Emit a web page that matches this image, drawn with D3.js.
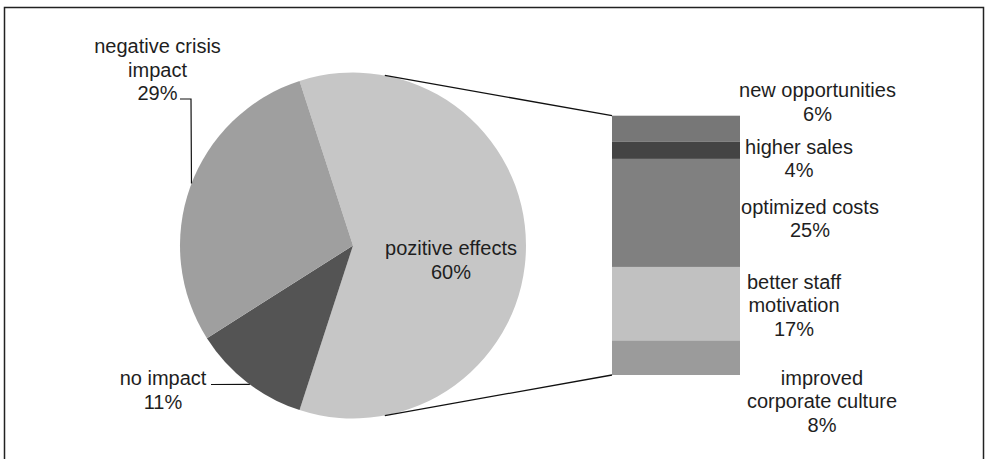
<!DOCTYPE html>
<html>
<head>
<meta charset="utf-8">
<script src="https://cdn.jsdelivr.net/npm/d3@7"></script>
<style>
  html, body { margin: 0; padding: 0; background: #fff; }
  svg { display: block; }
  text { font-family: "Liberation Sans", Arial, sans-serif; font-size: 20px; fill: #1e1e1e; }
</style>
</head>
<body>
<svg id="chart" width="988" height="459"></svg>
<script>
// Main pie: share of responses
const pieCategories = ["pozitive effects", "no impact", "negative crisis impact"];
const pieValues = [60, 11, 29];
const pieColors = ["#c6c6c6", "#545454", "#9f9f9f"];
const pieLabelLines = [["pozitive effects"], ["no impact"], ["negative crisis", "impact"]];

// Breakdown of the positive effects (stacked bar)
const barCategories = ["new opportunities", "higher sales", "optimized costs", "better staff motivation", "improved corporate culture"];
const barValues = [6, 4, 25, 17, 8];
const barColors = ["#777777", "#444444", "#808080", "#c1c1c1", "#9b9b9b"];
const barLabelLines = [["new opportunities"], ["higher sales"], ["optimized costs"], ["better staff", "motivation"], ["improved", "corporate culture"]];

const svg = d3.select("#chart");
const lineH = 23.7;

// frame
svg.append("rect")
  .attr("x", 4.5).attr("y", 7.5).attr("width", 979).attr("height", 470)
  .attr("fill", "none").attr("stroke", "#222").attr("stroke-width", 1.5);

// ---- pie ----
const cx = 353, cy = 245.5, R = 173;
const toRad = d => d * Math.PI / 180;
const pie = d3.pie().sort(null).value(d => d)
  .startAngle(toRad(-18)).endAngle(toRad(342));
const arcs = pie(pieValues);
const arc = d3.arc().innerRadius(0).outerRadius(R);

const gPie = svg.append("g").attr("transform", `translate(${cx},${cy})`);
gPie.selectAll("path").data(arcs).join("path")
  .attr("d", arc)
  .attr("fill", (d, i) => pieColors[i]);

// ---- stacked bar ----
const barX0 = 612, barX1 = 740;
const total = d3.sum(barValues);
const y = d3.scaleLinear().domain([0, total]).range([115.7, 375]);
const cum = d3.cumsum(barValues);
const segs = barValues.map((v, i) => ({ v, i, start: cum[i] - v, end: cum[i] }));

svg.append("g").selectAll("rect").data(segs).join("rect")
  .attr("x", barX0).attr("width", barX1 - barX0)
  .attr("y", d => y(d.start))
  .attr("height", d => y(d.end) - y(d.start))
  .attr("fill", d => barColors[d.i]);

// connector lines from the positive slice to the bar
const pt = a => [cx + R * Math.sin(toRad(a)), cy - R * Math.cos(toRad(a))];
const topPt = pt(10.6), botPt = pt(169.4);
svg.append("line")
  .attr("x1", topPt[0]).attr("y1", topPt[1]).attr("x2", barX0).attr("y2", y(0))
  .attr("stroke", "#111").attr("stroke-width", 1.3);
svg.append("line")
  .attr("x1", botPt[0]).attr("y1", botPt[1]).attr("x2", barX0).attr("y2", y(total))
  .attr("stroke", "#111").attr("stroke-width", 1.3);

// ---- labels ----
function block(lines, x, yTop) {
  const t = svg.append("text").attr("text-anchor", "middle");
  lines.forEach((s, k) => {
    t.append("tspan").attr("x", x).attr("y", yTop + k * lineH).attr("dy", "0.35em").text(s);
  });
  return t;
}

// pie labels (value line appended under the name)
const pieLabelPos = [[451, 248], [163, 378], [157.5, 46]];
pieValues.forEach((v, i) => {
  block(pieLabelLines[i].concat([v + "%"]), pieLabelPos[i][0], pieLabelPos[i][1]);
});

// leader lines for outside pie labels
const negEdge = pt(291);
svg.append("polyline")
  .attr("points", [[180, 99], [191, 99], negEdge].map(p => p.join(",")).join(" "))
  .attr("fill", "none").attr("stroke", "#111").attr("stroke-width", 1.2);
const noEdge = pt(216.6);
svg.append("polyline")
  .attr("points", [[211, 384.5], noEdge].map(p => p.join(",")).join(" "))
  .attr("fill", "none").attr("stroke", "#111").attr("stroke-width", 1.2);

// bar labels
const barLabelPos = [[817.5, 90], [799, 146.7], [810, 206.7], [794, 281.7], [822, 377.7]];
barValues.forEach((v, i) => {
  block(barLabelLines[i].concat([v + "%"]), barLabelPos[i][0], barLabelPos[i][1]);
});
</script>
</body>
</html>
